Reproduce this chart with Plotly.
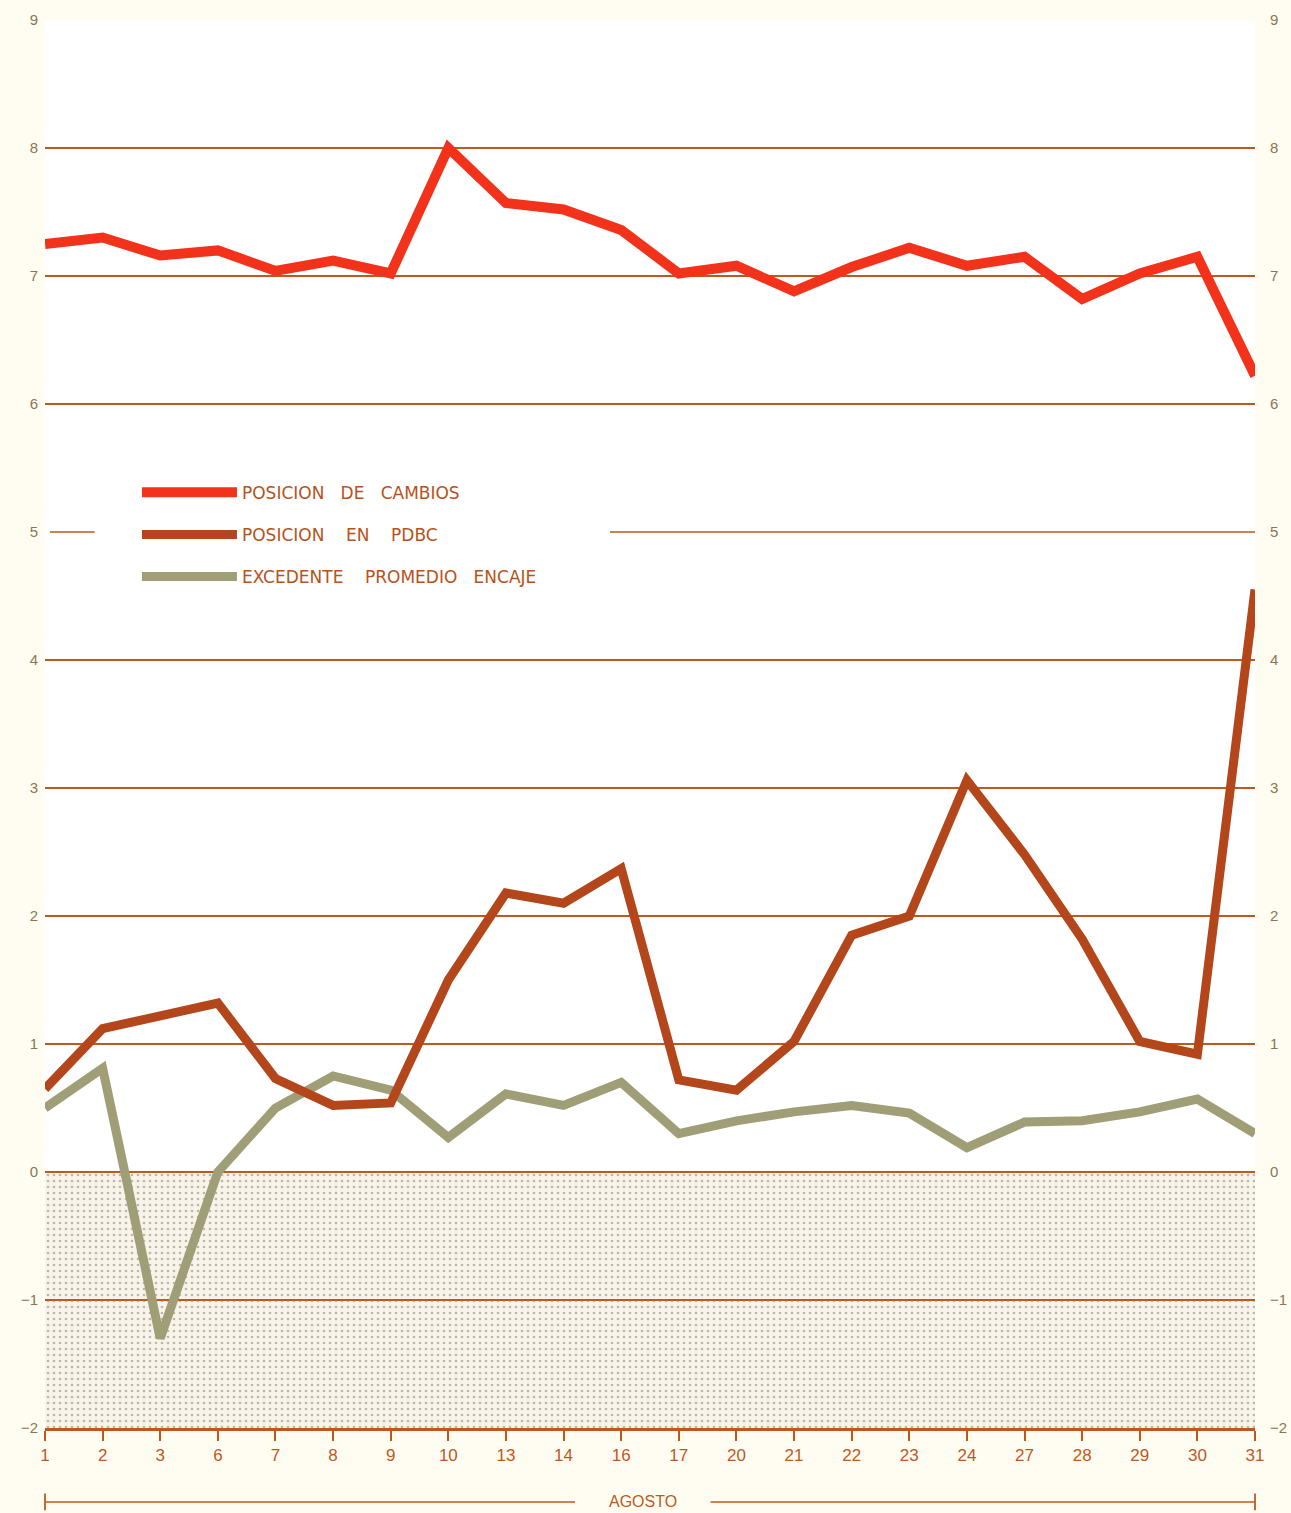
import plotly.graph_objects as go

dias = ["1", "2", "3", "6", "7", "8", "9", "10", "13", "14", "16", "17",
        "20", "21", "22", "23", "24", "27", "28", "29", "30", "31"]

posicion_cambios = [7.25, 7.30, 7.16, 7.20, 7.04, 7.12, 7.02, 8.00, 7.57, 7.52, 7.36, 7.02,
                    7.08, 6.88, 7.07, 7.22, 7.08, 7.15, 6.82, 7.02, 7.15, 6.22]
posicion_pdbc = [0.65, 1.12, 1.22, 1.32, 0.73, 0.52, 0.54, 1.50, 2.18, 2.10, 2.37, 0.72,
                 0.64, 1.02, 1.85, 2.00, 3.06, 2.48, 1.82, 1.02, 0.92, 4.55]
excedente_encaje = [0.50, 0.81, -1.30, 0.00, 0.50, 0.75, 0.64, 0.27, 0.61, 0.52, 0.70, 0.30,
                    0.40, 0.47, 0.52, 0.46, 0.19, 0.39, 0.40, 0.47, 0.57, 0.30]

y_ticks = [-2, -1, 0, 1, 2, 3, 4, 5, 6, 7, 8, 9]
y_grid = [-1, 0, 1, 2, 3, 4, 6, 7, 8]
y_grid_broken = 5
y_min, y_max = -2, 9
mes = "AGOSTO"

ORANGE = "#c0581e"
LABEL = "#8e7550"

fig = go.Figure()

# beige background of the negative region (below gridlines)
fig.add_shape(type="rect", xref="paper", yref="y", x0=0, x1=1, y0=y_min, y1=0,
              fillcolor="#f8f4ea", line=dict(width=0), layer="below")

# dotted pattern of the negative region
fig.add_trace(go.Scatter(
    x=[dias[0], dias[-1], dias[-1], dias[0], dias[0]],
    y=[0, 0, y_min, y_min, 0],
    mode="lines", line=dict(width=0), fill="toself",
    fillcolor="rgba(0,0,0,0)",
    fillpattern=dict(shape=".", fgcolor="#7f7a6c", bgcolor="rgba(0,0,0,0)",
                     size=6, solidity=0.16, fillmode="overlay"),
    showlegend=False, hoverinfo="skip"))

series = [
    ("POSICION\u00a0\u00a0\u00a0DE\u00a0\u00a0\u00a0CAMBIOS", posicion_cambios, "#f2321a", 10),
    ("POSICION\u00a0\u00a0\u00a0\u00a0EN\u00a0\u00a0\u00a0\u00a0PDBC", posicion_pdbc, "#b3461a", 9),
    ("EXCEDENTE\u00a0\u00a0\u00a0\u00a0PROMEDIO\u00a0\u00a0\u00a0ENCAJE", excedente_encaje, "#9f9e76", 9),
]
order = [2, 1, 0]
for i in order:
    name, vals, col, w = series[i]
    fig.add_trace(go.Scatter(
        x=dias, y=vals, mode="lines", name=name,
        line=dict(color=col, width=w), legendgroup=f"g{i}",
        legendrank=i + 1))

# invisible trace for the right axis
fig.add_trace(go.Scatter(x=[dias[0]], y=[0], yaxis="y2", mode="lines",
                         line=dict(width=0), showlegend=False, hoverinfo="skip"))

# gridline at 5, interrupted by the legend
for xa, xb in ((0.004, 0.041), (0.467, 1.0)):
    fig.add_shape(type="line", xref="paper", yref="y", x0=xa, x1=xb,
                  y0=y_grid_broken, y1=y_grid_broken,
                  line=dict(color=ORANGE, width=1.6), layer="below")

# AGOSTO bracket below the axis
yb = -0.0525
fig.add_shape(type="line", xref="paper", yref="paper", x0=0, x1=0.438, y0=yb, y1=yb,
              line=dict(color=ORANGE, width=1.5))
fig.add_shape(type="line", xref="paper", yref="paper", x0=0.550, x1=1, y0=yb, y1=yb,
              line=dict(color=ORANGE, width=1.5))
for xp in (0, 1):
    fig.add_shape(type="line", xref="paper", yref="paper", x0=xp, x1=xp,
                  y0=yb - 0.006, y1=yb + 0.006, line=dict(color=ORANGE, width=1.8))
fig.add_annotation(text=mes, xref="paper", yref="paper", x=0.494, y=yb, yanchor="middle",
                   showarrow=False,
                   font=dict(family="Liberation Sans", size=16, color=ORANGE))

fig.update_layout(
    width=1291, height=1513,
    margin=dict(l=45, r=36, t=20, b=85),
    paper_bgcolor="#fffdf2",
    plot_bgcolor="#ffffff",
    font=dict(family="Liberation Sans", color=LABEL),
    legend=dict(x=0.076, y=0.677, xanchor="left", yanchor="top",
                bgcolor="rgba(0,0,0,0)", itemwidth=95, tracegroupgap=17,
                font=dict(family="DejaVu Sans", size=17, color="#b8521a")),
    xaxis=dict(type="category", categoryorder="array", categoryarray=dias,
               range=[0, len(dias) - 1], showgrid=False, automargin=False,
               showline=True, linecolor=ORANGE, linewidth=2.5,
               ticks="outside", ticklen=10, tickwidth=2, tickcolor=ORANGE,
               tickfont=dict(size=17, color=ORANGE), zeroline=False),
    yaxis=dict(range=[y_min, y_max], tickvals=y_ticks, showgrid=False, zeroline=False,
               showline=False, ticks="", tickfont=dict(size=15, color=LABEL),
               ticklabelstandoff=6, automargin=False,
               minor=dict(tickvals=y_grid, showgrid=True, gridcolor=ORANGE, gridwidth=1.6, ticks="")),
    yaxis2=dict(range=[y_min, y_max], tickvals=y_ticks, overlaying="y", side="right",
                showgrid=False, zeroline=False, showline=False, ticks="", automargin=False,
                tickfont=dict(size=15, color=LABEL), ticklabelstandoff=14),
)

fig.write_html("out.html", config={"displayModeBar": False},
               post_script="document.body.style.margin='0';")
